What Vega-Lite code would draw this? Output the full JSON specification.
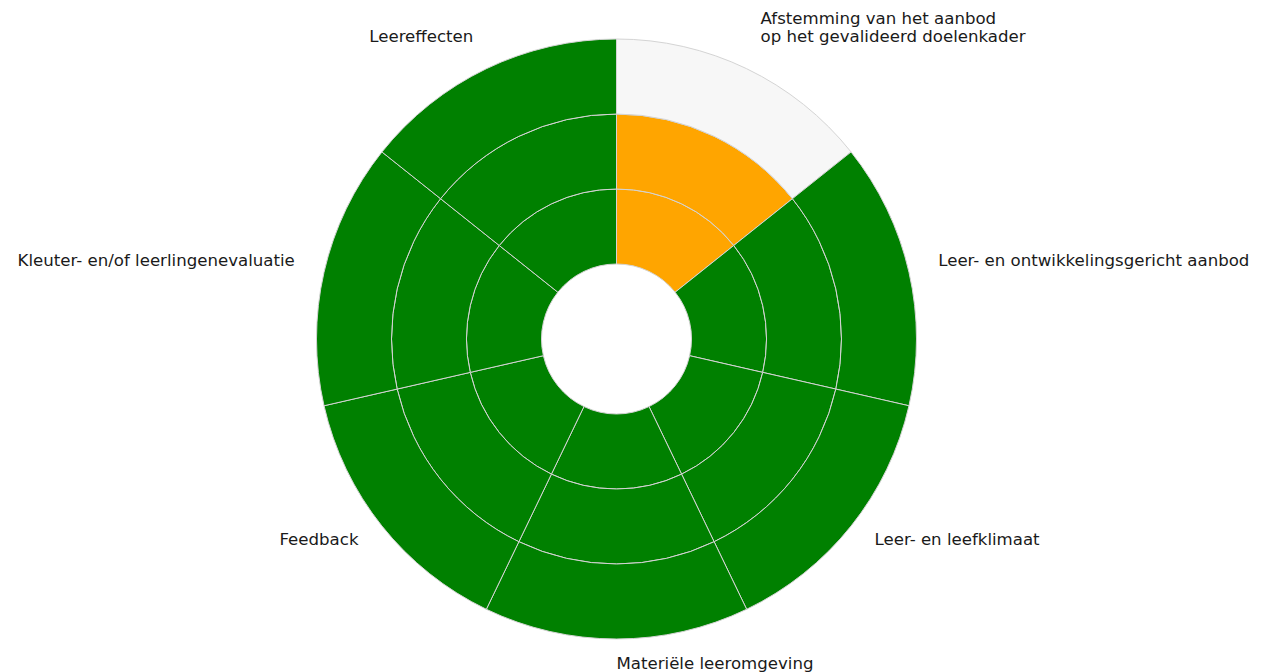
{
  "$schema": "https://vega.github.io/schema/vega-lite/v6.json",
  "autosize": "none",
  "width": 1233,
  "height": 664,
  "padding": {"left": 0, "right": 31, "top": 7, "bottom": 1},
  "background": "white",
  "config": {"view": {"stroke": null}},
  "datasets": {
    "cells": [
      {"cat": "Afstemming van het aanbod\nop het gevalideerd doelenkader", "idx": 0, "ring": 1, "status": "oranje", "share": 1},
      {"cat": "Afstemming van het aanbod\nop het gevalideerd doelenkader", "idx": 0, "ring": 2, "status": "oranje", "share": 1},
      {"cat": "Afstemming van het aanbod\nop het gevalideerd doelenkader", "idx": 0, "ring": 3, "status": "leeg", "share": 1},
      {"cat": "Leer- en ontwikkelingsgericht aanbod", "idx": 1, "ring": 1, "status": "groen", "share": 1},
      {"cat": "Leer- en ontwikkelingsgericht aanbod", "idx": 1, "ring": 2, "status": "groen", "share": 1},
      {"cat": "Leer- en ontwikkelingsgericht aanbod", "idx": 1, "ring": 3, "status": "groen", "share": 1},
      {"cat": "Leer- en leefklimaat", "idx": 2, "ring": 1, "status": "groen", "share": 1},
      {"cat": "Leer- en leefklimaat", "idx": 2, "ring": 2, "status": "groen", "share": 1},
      {"cat": "Leer- en leefklimaat", "idx": 2, "ring": 3, "status": "groen", "share": 1},
      {"cat": "Materiële leeromgeving", "idx": 3, "ring": 1, "status": "groen", "share": 1},
      {"cat": "Materiële leeromgeving", "idx": 3, "ring": 2, "status": "groen", "share": 1},
      {"cat": "Materiële leeromgeving", "idx": 3, "ring": 3, "status": "groen", "share": 1},
      {"cat": "Feedback", "idx": 4, "ring": 1, "status": "groen", "share": 1},
      {"cat": "Feedback", "idx": 4, "ring": 2, "status": "groen", "share": 1},
      {"cat": "Feedback", "idx": 4, "ring": 3, "status": "groen", "share": 1},
      {"cat": "Kleuter- en/of leerlingenevaluatie", "idx": 5, "ring": 1, "status": "groen", "share": 1},
      {"cat": "Kleuter- en/of leerlingenevaluatie", "idx": 5, "ring": 2, "status": "groen", "share": 1},
      {"cat": "Kleuter- en/of leerlingenevaluatie", "idx": 5, "ring": 3, "status": "groen", "share": 1},
      {"cat": "Leereffecten", "idx": 6, "ring": 1, "status": "groen", "share": 1},
      {"cat": "Leereffecten", "idx": 6, "ring": 2, "status": "groen", "share": 1},
      {"cat": "Leereffecten", "idx": 6, "ring": 3, "status": "groen", "share": 1}
    ]
  },
  "data": {"name": "cells"},
  "encoding": {
    "theta": {"field": "share", "type": "quantitative", "stack": true},
    "order": {"field": "idx", "type": "quantitative"}
  },
  "layer": [
    {
      "transform": [{"filter": "datum.ring == 1"}],
      "mark": {"type": "arc", "radius": 150, "radius2": 75, "stroke": "#d4d4d4", "strokeWidth": 1},
      "encoding": {
        "color": {"field": "status", "type": "nominal", "legend": null,
          "scale": {"domain": ["groen", "oranje", "leeg"], "range": ["#008000", "#ffa500", "#f7f7f7"]}}
      }
    },
    {
      "transform": [{"filter": "datum.ring == 2"}],
      "mark": {"type": "arc", "radius": 225, "radius2": 150, "stroke": "#d4d4d4", "strokeWidth": 1},
      "encoding": {
        "color": {"field": "status", "type": "nominal", "legend": null}
      }
    },
    {
      "transform": [{"filter": "datum.ring == 3"}],
      "mark": {"type": "arc", "radius": 300, "radius2": 225, "stroke": "#d4d4d4", "strokeWidth": 1},
      "encoding": {
        "color": {"field": "status", "type": "nominal", "legend": null}
      }
    },
    {
      "transform": [{"filter": "datum.ring == 1"}],
      "mark": {"type": "text", "radius": 330, "align": "left", "baseline": "middle", "dy": -5, "font": "DejaVu Sans", "fontSize": 16.6, "color": "#1a1a1a"},
      "encoding": {
        "text": {"field": "cat", "type": "nominal"},
        "opacity": {"condition": {"test": "datum.idx == 1 || datum.idx == 2", "value": 1}, "value": 0}
      }
    },
    {
      "transform": [{"filter": "datum.ring == 1"}],
      "mark": {"type": "text", "radius": 332, "align": "left", "baseline": "middle", "dy": -21, "font": "DejaVu Sans", "fontSize": 16.6, "color": "#1a1a1a", "lineBreak": "\n", "lineHeight": 18},
      "encoding": {
        "text": {"field": "cat", "type": "nominal"},
        "opacity": {"condition": {"test": "datum.idx == 0", "value": 1}, "value": 0}
      }
    },
    {
      "transform": [{"filter": "datum.ring == 1"}],
      "mark": {"type": "text", "radius": 332, "align": "left", "baseline": "middle", "dy": -7, "font": "DejaVu Sans", "fontSize": 16.6, "color": "#1a1a1a"},
      "encoding": {
        "text": {"field": "cat", "type": "nominal"},
        "opacity": {"condition": {"test": "datum.idx == 3", "value": 1}, "value": 0}
      }
    },
    {
      "transform": [{"filter": "datum.ring == 1"}],
      "mark": {"type": "text", "radius": 330, "align": "right", "baseline": "middle", "dy": -5, "font": "DejaVu Sans", "fontSize": 16.6, "color": "#1a1a1a"},
      "encoding": {
        "text": {"field": "cat", "type": "nominal"},
        "opacity": {"condition": {"test": "datum.idx >= 4", "value": 1}, "value": 0}
      }
    }
  ]
}
